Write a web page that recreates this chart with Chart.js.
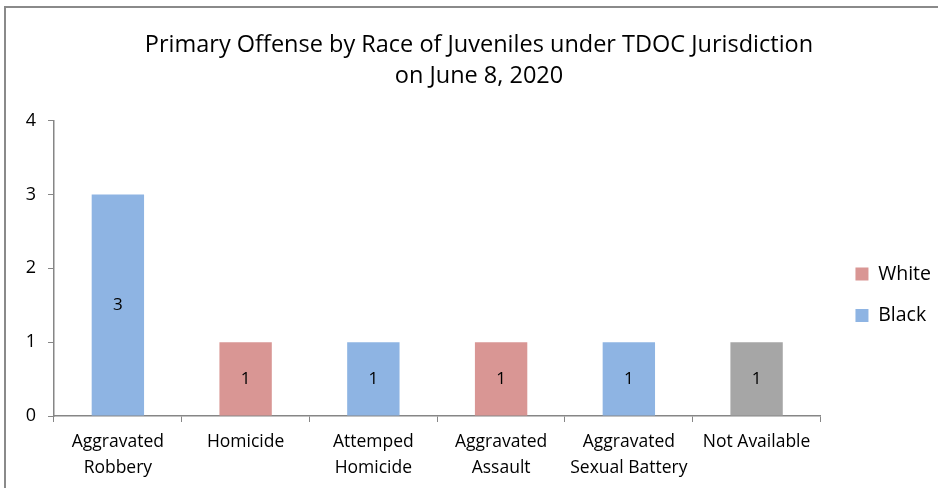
<!DOCTYPE html>
<html>
<head>
<meta charset="utf-8">
<script src="https://cdn.jsdelivr.net/npm/chart.js@4"></script>
<style>
  html, body { margin: 0; padding: 0; background: #fff; overflow: hidden; width: 938px; height: 488px; }
  #frame { position: absolute; left: 4px; top: 6px; border-left: 2px solid #8a8a8a; border-top: 2px solid #8a8a8a; width: 946px; height: 490px; }
  #wrap { position: relative; width: 944px; height: 479px; margin-left: 1px; margin-top: 1px; }
</style>
</head>
<body>
<div id="frame"><div id="wrap"><canvas id="offenseChart"></canvas></div></div>
<script>
const categories = [['Aggravated', 'Robbery'], 'Homicide', ['Attemped', 'Homicide'], ['Aggravated', 'Assault'], ['Aggravated', 'Sexual Battery'], 'Not Available'];
const whiteValues = [0, 1, 0, 1, 0, 0];
const blackValues = [3, 0, 1, 0, 1, 0];
const notAvailableValues = [0, 0, 0, 0, 0, 1];
const yTicks = [0, 1, 2, 3, 4];

const FONT = '"Open Sans", Lato, sans-serif';

// draw value in the middle of each bar
const barLabels = {
    id: 'barLabels',
    afterDatasetsDraw(chart) {
        const ctx = chart.ctx;
        ctx.save();
        ctx.font = '17px ' + FONT;
        ctx.fillStyle = '#000';
        ctx.textAlign = 'center';
        ctx.textBaseline = 'middle';
        chart.data.datasets.forEach((ds, i) => {
            const meta = chart.getDatasetMeta(i);
            meta.data.forEach((bar, j) => {
                const v = ds.data[j];
                if (!v) return;
                ctx.fillText(String(v), bar.x, (bar.y + bar.base) / 2);
            });
        });
        ctx.restore();
    }
};

// center the title over the whole canvas, like Excel does
const fullWidthTitle = {
    id: 'fullWidthTitle',
    afterLayout(chart) {
        if (chart.titleBlock) {
            chart.titleBlock.left = 0;
            chart.titleBlock.right = chart.width;
        }
    }
};

new Chart(document.getElementById('offenseChart'), {
    type: 'bar',
    data: {
        labels: categories,
        datasets: [
            { label: 'White', data: whiteValues, backgroundColor: '#D99694' },
            { label: 'Black', data: blackValues, backgroundColor: '#8EB4E3' },
            { label: 'Not Available', data: notAvailableValues, backgroundColor: '#A6A6A6' }
        ]
    },
    options: {
        responsive: true,
        maintainAspectRatio: false,
        animation: false,
        categoryPercentage: 1,
        barPercentage: 0.41,
        layout: { padding: { right: 10 } },
        plugins: {
            title: {
                display: true,
                text: ['Primary Offense by Race of Juveniles under TDOC Jurisdiction', 'on June 8, 2020'],
                color: '#000',
                font: { family: FONT, size: 23.5, weight: 'normal', lineHeight: 1.32 },
                padding: { top: 20.5, bottom: 29 }
            },
            legend: {
                position: 'right',
                align: 'start',
                title: { display: true, text: ' ', padding: { top: 232, bottom: 0 }, font: { size: 1 } },
                labels: {
                    filter: item => item.text !== 'Not Available',
                    color: '#000',
                    font: { family: FONT, size: 19.5 },
                    boxWidth: 13,
                    boxHeight: 13,
                    padding: 22
                }
            },
            tooltip: { enabled: false }
        },
        scales: {
            x: {
                stacked: true,
                grid: { drawOnChartArea: false, drawTicks: true, tickLength: 6, color: '#868686' },
                border: { color: '#868686', width: 1.5 },
                ticks: { color: '#000', font: { family: FONT, size: 17.5, lineHeight: 1.43 }, padding: 8, maxRotation: 0, autoSkip: false },
                afterFit: scale => { scale.height = 72; }
            },
            y: {
                stacked: true,
                min: 0,
                max: 4,
                afterBuildTicks: scale => { scale.ticks = yTicks.map(v => ({ value: v })); },
                grid: { drawOnChartArea: false, drawTicks: true, tickLength: 6, color: '#868686' },
                border: { color: '#868686', width: 1.5 },
                ticks: { color: '#000', font: { family: FONT, size: 18 }, padding: 12 },
                afterFit: scale => { scale.width = 47; }
            },
            // empty spacer between plot and legend
            gap: {
                position: 'right',
                display: true,
                grid: { display: false },
                border: { display: false },
                ticks: { display: false },
                afterFit: scale => { scale.width = 13; }
            }
        }
    },
    plugins: [barLabels, fullWidthTitle]
});
</script>
</body>
</html>
